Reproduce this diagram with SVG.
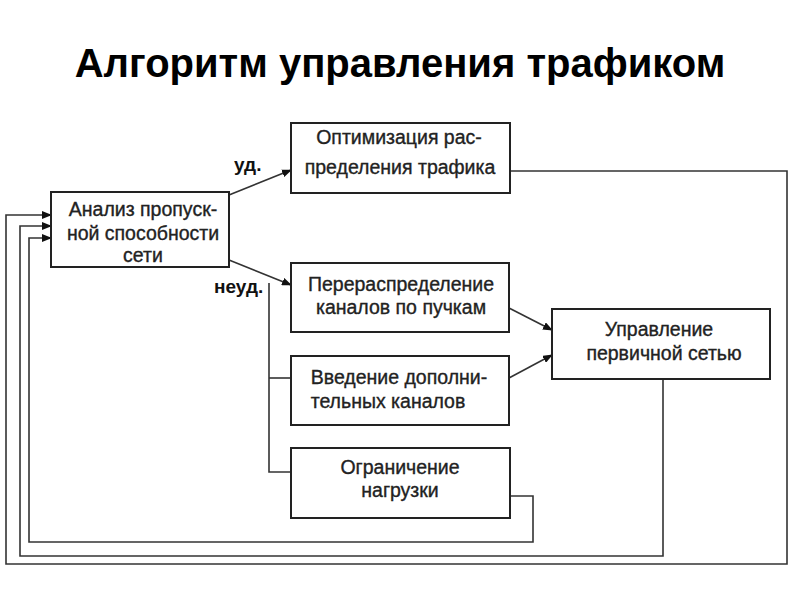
<svg xmlns="http://www.w3.org/2000/svg" width="800" height="600" viewBox="0 0 800 600">
<defs>
<marker id="ah" markerWidth="10" markerHeight="8" refX="9" refY="4" orient="auto" markerUnits="userSpaceOnUse">
<path d="M0,0 L10,4 L0,8 Z" fill="#111"/>
</marker>
<style>
.box{fill:#fff;stroke:#222;stroke-width:2}
.t{font-family:"Liberation Sans",Arial,sans-serif;font-size:19.5px;fill:#222;stroke:#222;stroke-width:0.35;text-anchor:middle}
.ln{fill:none;stroke:#333;stroke-width:1.6}
.lbl{font-family:"Liberation Sans",Arial,sans-serif;font-size:19px;font-weight:bold;fill:#111}
</style>
</defs>
<rect width="800" height="600" fill="#fff"/>
<text x="400" y="77" font-family="'Liberation Sans',Arial,sans-serif" font-size="40" font-weight="bold" text-anchor="middle" fill="#000">Алгоритм управления трафиком</text>

<g id="connectors">
<path class="ln" d="M229,195 L291,170" marker-end="url(#ah)"/>
<path class="ln" d="M229,260 L291,285" marker-end="url(#ah)"/>
<path class="ln" d="M269,283 V472 H291"/>
<path class="ln" d="M269,378 H291"/>
<path class="ln" d="M509,308 L552,330" marker-end="url(#ah)"/>
<path class="ln" d="M509,378 L552,355" marker-end="url(#ah)"/>
<path class="ln" d="M510,171 H787 V564 H6 V215 H51" stroke="#111" stroke-width="2" marker-end="url(#ah)"/>
<path class="ln" d="M663,379 V556 H20 V226 H51" marker-end="url(#ah)"/>
<path class="ln" d="M510,496 H533 V542 H29 V238 H51" marker-end="url(#ah)"/>
<text class="lbl" x="234" y="171">уд.</text>
<text class="lbl" x="214" y="293">неуд.</text>
</g>

<g id="analiz">
<rect class="box" x="51" y="192" width="178" height="75"/>
<text class="t" x="143" y="216">Анализ пропуск-</text>
<text class="t" x="143" y="240">ной способности</text>
<text class="t" x="143" y="262">сети</text>
</g>
<g id="optimizacia">
<rect class="box" x="291" y="123" width="219" height="70"/>
<text class="t" x="399" y="144">Оптимизация рас-</text>
<text class="t" x="400" y="174">пределения трафика</text>
</g>
<g id="pereraspredelenie">
<rect class="box" x="291" y="263" width="218" height="69"/>
<text class="t" x="401" y="291">Перераспределение</text>
<text class="t" x="401" y="314">каналов по пучкам</text>
</g>
<g id="vvedenie">
<rect class="box" x="291" y="356" width="218" height="69"/>
<text class="t" x="399" y="384">Введение дополни-</text>
<text class="t" x="388" y="408">тельных каналов</text>
</g>
<g id="ogranichenie">
<rect class="box" x="291" y="448" width="219" height="70"/>
<text class="t" x="400" y="474">Ограничение</text>
<text class="t" x="400" y="497">нагрузки</text>
</g>
<g id="upravlenie">
<rect class="box" x="552" y="309" width="218" height="70"/>
<text class="t" x="659" y="336">Управление</text>
<text class="t" x="664" y="360">первичной сетью</text>
</g>
</svg>
